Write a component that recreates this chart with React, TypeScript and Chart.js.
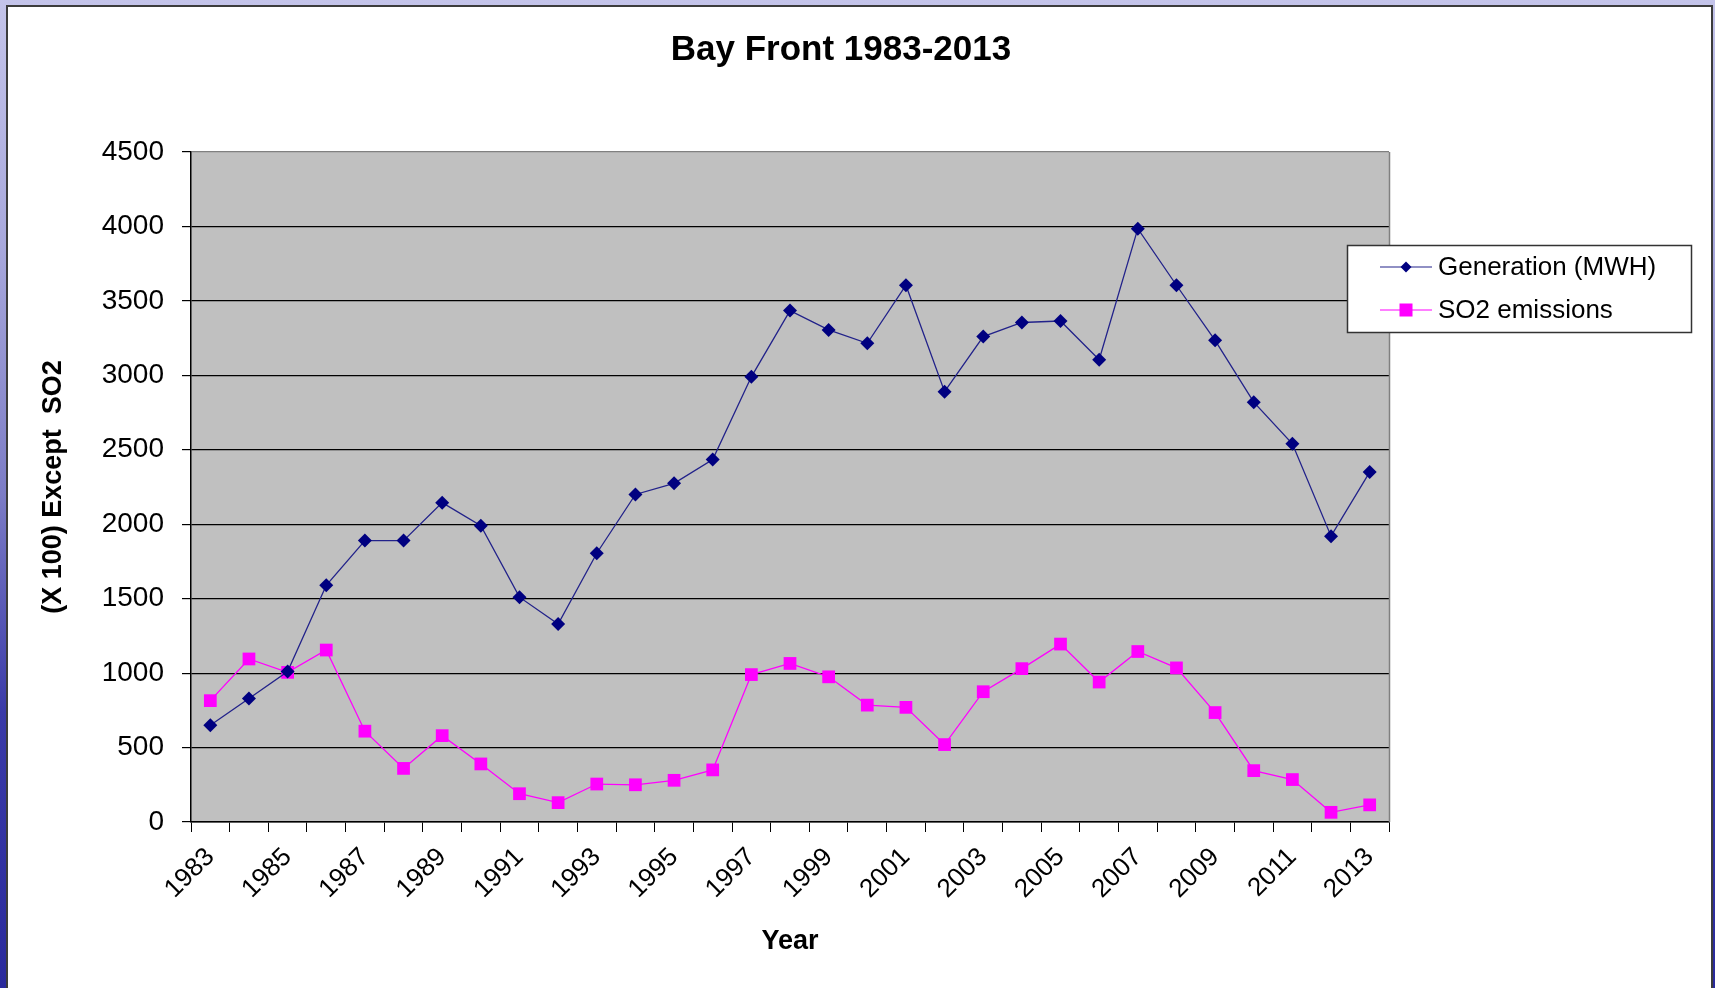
import React, { useEffect, useRef } from 'react';
import { Chart, registerables } from 'chart.js';

Chart.register(...registerables);

const chartTitle = 'Bay Front 1983-2013';
const yAxisTitle = '(X 100) Except  SO2';
const xAxisTitle = 'Year';
const years = [
  '1983', '1984', '1985', '1986', '1987', '1988', '1989', '1990', '1991', '1992',
  '1993', '1994', '1995', '1996', '1997', '1998', '1999', '2000', '2001', '2002',
  '2003', '2004', '2005', '2006', '2007', '2008', '2009', '2010', '2011', '2012', '2013',
];
const generation = [
  650, 830, 1010, 1590, 1890, 1890, 2145, 1990, 1510, 1330,
  1805, 2200, 2275, 2435, 2990, 3435, 3305, 3215, 3605, 2890,
  3260, 3355, 3365, 3105, 3985, 3605, 3235, 2820, 2540, 1920, 2350,
];
const so2 = [
  815, 1095, 1005, 1155, 610, 360, 580, 390, 190, 130,
  255, 250, 280, 350, 990, 1065, 975, 785, 770, 520,
  875, 1030, 1195, 940, 1145, 1035, 735, 345, 285, 65, 115,
];
const seriesNames = ['Generation (MWH)', 'SO2 emissions'];
const yMin = 0;
const yMax = 4500;
const yStep = 500;

const FONT = '"Liberation Sans", Arial, sans-serif';

const W = 1715;
const H = 988;

const decorPlugin = {
  id: 'decor',
  beforeDraw(chart: any) {
    const { ctx, chartArea } = chart;
    ctx.save();
    ctx.fillStyle = '#c0c0c0';
    ctx.fillRect(chartArea.left, chartArea.top, chartArea.right - chartArea.left, chartArea.bottom - chartArea.top);
    ctx.restore();
  },
  beforeDatasetsDraw(chart: any) {
    const { ctx, chartArea } = chart;
    ctx.save();
    ctx.strokeStyle = '#808080';
    ctx.lineWidth = 1.5;
    ctx.beginPath();
    ctx.moveTo(Math.round(chartArea.right) + 0.5, chartArea.top);
    ctx.lineTo(Math.round(chartArea.right) + 0.5, chartArea.bottom);
    ctx.stroke();
    ctx.restore();
  },
  afterDraw(chart: any) {
    const { ctx, chartArea } = chart;
    ctx.save();
    // Title
    ctx.fillStyle = '#000';
    ctx.font = `bold 35px ${FONT}`;
    ctx.textAlign = 'center';
    ctx.textBaseline = 'middle';
    ctx.fillText(chartTitle, 841, 50);

    // Legend
    const bx = chartArea.right - 42;
    const by = 245;
    const bw = 344;
    const bh = 87;
    ctx.fillStyle = '#ffffff';
    ctx.fillRect(bx, by, bw, bh);
    ctx.strokeStyle = '#333333';
    ctx.lineWidth = 1.5;
    ctx.strokeRect(bx + 0.5, by + 0.5, bw, bh);
    const rows = [by + 22, by + 65];
    chart.data.datasets.forEach((ds: any, i: number) => {
      const y = rows[i];
      const x0 = bx + 33;
      const x1 = bx + 85;
      const xm = (x0 + x1) / 2;
      ctx.strokeStyle = ds.borderColor;
      ctx.lineWidth = 1.2;
      ctx.beginPath();
      ctx.moveTo(x0, y);
      ctx.lineTo(x1, y);
      ctx.stroke();
      ctx.fillStyle = ds.pointBackgroundColor;
      if (ds.pointStyle === 'rectRot') {
        const r = 5.5;
        ctx.beginPath();
        ctx.moveTo(xm - r, y);
        ctx.lineTo(xm, y - r);
        ctx.lineTo(xm + r, y);
        ctx.lineTo(xm, y + r);
        ctx.closePath();
        ctx.fill();
      } else {
        const s = 6.5;
        ctx.fillRect(xm - s, y - s, 2 * s, 2 * s);
      }
      ctx.fillStyle = '#000';
      ctx.font = `26px ${FONT}`;
      ctx.textAlign = 'left';
      ctx.textBaseline = 'middle';
      ctx.fillText(ds.label, bx + 91, y + 1);
    });
    ctx.restore();
  },
};

export default function App() {
  const ref = useRef<HTMLCanvasElement | null>(null);

  useEffect(() => {
    if (!ref.current) return;
    Chart.defaults.font.family = FONT;
    const chart = new Chart(ref.current, {
      type: 'line',
      data: {
        labels: years,
        datasets: [
          {
            label: seriesNames[0],
            data: generation,
            borderColor: '#22228a',
            backgroundColor: '#000080',
            pointBackgroundColor: '#000080',
            pointBorderColor: '#000080',
            borderWidth: 1.3,
            pointStyle: 'rectRot',
            pointRadius: 7,
            pointBorderWidth: 0,
            tension: 0,
          },
          {
            label: seriesNames[1],
            data: so2,
            borderColor: '#ff00ff',
            backgroundColor: '#ff00ff',
            pointBackgroundColor: '#ff00ff',
            pointBorderColor: '#ff00ff',
            borderWidth: 1.3,
            pointStyle: 'rect',
            pointRadius: 9,
            pointBorderWidth: 0,
            tension: 0,
          },
        ],
      },
      options: {
        responsive: false,
        animation: false,
        events: [],
        layout: { padding: { top: 152, left: 30, right: 326, bottom: 26 } },
        plugins: {
          legend: { display: false },
          title: { display: false },
          tooltip: { enabled: false },
        },
        scales: {
          x: {
            type: 'category',
            offset: true,
            grid: {
              offset: true,
              drawOnChartArea: false,
              drawTicks: true,
              tickLength: 10,
              tickColor: '#000',
              color: '#000',
            },
            border: { display: true, color: '#000', width: 1.5 },
            ticks: {
              autoSkip: false,
              maxRotation: 45,
              minRotation: 45,
              padding: 19,
              color: '#000',
              font: { size: 26, family: FONT, lineHeight: 0.2 },
              callback: (_v: any, i: number) => (i % 2 === 0 ? years[i] : ''),
            },
            title: {
              display: true,
              text: xAxisTitle,
              color: '#000',
              font: { size: 27, weight: 'bold', family: FONT },
              padding: { top: 0, bottom: 4 },
            },
            afterFit: (scale: any) => {
              scale.height = 140;
            },
          },
          y: {
            min: yMin,
            max: yMax,
            ticks: {
              stepSize: yStep,
              padding: 18,
              color: '#000',
              font: { size: 28, family: FONT },
              callback: (v: any) => String(v),
            },
            grid: {
              color: (c: any) => (c.tick && c.tick.value === yMax ? '#808080' : '#000'),
              lineWidth: 1.2,
              tickLength: 9,
              tickColor: '#000',
            },
            border: { display: true, color: '#000', width: 1.5 },
            title: {
              display: true,
              text: yAxisTitle,
              color: '#000',
              font: { size: 27, weight: 'bold', family: FONT },
              padding: { top: 7, bottom: 0 },
            },
            afterFit: (scale: any) => {
              scale.width = 161;
            },
          },
        },
      },
      plugins: [decorPlugin],
    });
    return () => chart.destroy();
  }, []);

  return (
    <div
      style={{
        position: 'fixed',
        left: 0,
        top: 0,
        width: W,
        height: H,
        overflow: 'hidden',
        background: 'linear-gradient(to bottom, #c4c4ea 0%, #a8a8dc 25%, #7c7cc6 50%, #3a3aa8 72%, #2a2a9c 100%)',
      }}
    >
      <div
        style={{
          position: 'absolute',
          left: 6,
          top: 5,
          width: 1707,
          height: 1000,
          boxSizing: 'border-box',
          border: '2px solid #3c3c3c',
          background: '#ffffff',
        }}
      />
      <canvas
        ref={ref}
        width={W}
        height={H}
        style={{ position: 'absolute', left: 0, top: 0, width: W, height: H }}
      />
    </div>
  );
}
